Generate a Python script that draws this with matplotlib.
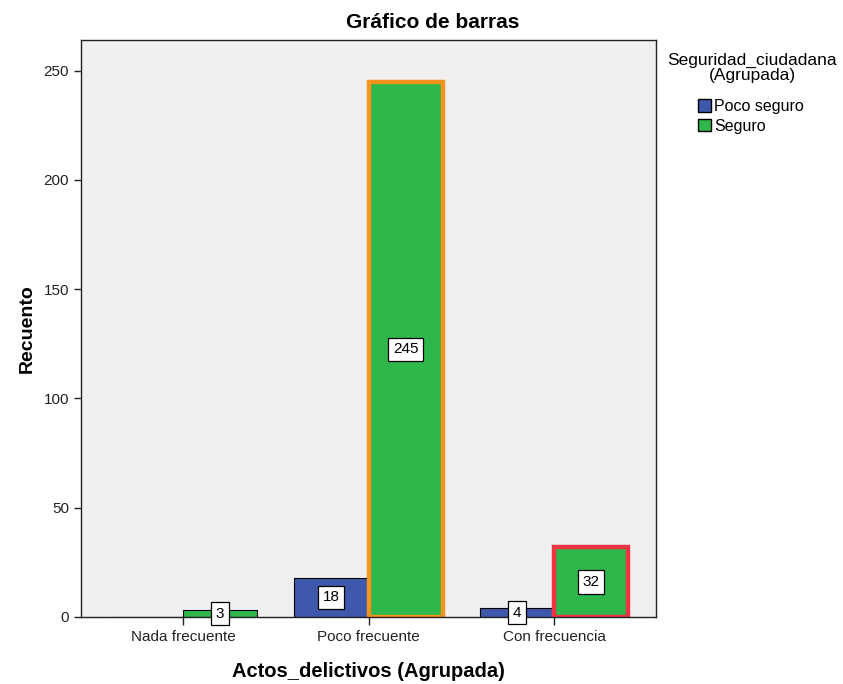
import matplotlib.pyplot as plt
import numpy as np
from matplotlib.patches import Patch

plt.rcParams['font.family'] = ['Liberation Sans', 'DejaVu Sans']

categories = ['Nada frecuente', 'Poco frecuente', 'Con frecuencia']
poco_seguro = [0, 18, 4]
seguro = [3, 245, 32]
series_names = ['Poco seguro', 'Seguro']
blue = '#3E58AC'
green = '#2EB84B'

fig = plt.figure(figsize=(8.43, 6.84), dpi=100)
ax = fig.add_axes([81/843, 67/684, 575/843, 577/684])
ax.set_facecolor('#F0F0F0')

x = np.arange(len(categories))
w = 0.4
b1 = ax.bar(x - w/2, poco_seguro, w, color=blue, edgecolor='black', linewidth=0.8, zorder=2)
b2 = ax.bar(x + w/2, seguro, w, color=green, edgecolor='black', linewidth=0.8, zorder=2)
# highlighted bars
b2[1].set_edgecolor('#F7941D')
b2[1].set_linewidth(3.2)
b2[2].set_edgecolor('#EE3342')
b2[2].set_linewidth(3.2)

for bars, vals in [(b1, poco_seguro), (b2, seguro)]:
    for bar, v in zip(bars, vals):
        if v == 0:
            continue
        ax.text(bar.get_x() + bar.get_width()/2, v/2, str(v), ha='center', va='center',
                fontsize=11, zorder=4,
                bbox=dict(boxstyle='square,pad=0.3', fc='white', ec='black', lw=0.9))

ax.set_xlim(-0.55, 2.55)
ax.set_ylim(0, 264)
ax.set_xticks(x)
ax.set_xticklabels(categories, fontsize=11)
ax.set_yticks([0, 50, 100, 150, 200, 250])
ax.tick_params(axis='y', labelsize=11, length=5, width=1, colors='#222222')
ax.tick_params(axis='x', length=6, width=1, colors='#222222')
for s in ax.spines.values():
    s.set_linewidth(1)
    s.set_color('#222222')

ax.set_ylabel('Recuento', fontsize=14, fontweight='bold', labelpad=6)
ax.set_xlabel('Actos_delictivos (Agrupada)', fontsize=14.5, fontweight='bold', labelpad=13)
fig.text(433/843, 1 - 22/684, 'Gráfico de barras', ha='center', va='center',
         fontsize=15, fontweight='bold')

fig.text(752/843, 1 - 68/684, 'Seguridad_ciudadana\n(Agrupada)', ha='center', va='center',
         multialignment='center', fontsize=12.5, linespacing=1.0)
handles = [Patch(facecolor=blue, edgecolor='black', label=series_names[0]),
           Patch(facecolor=green, edgecolor='black', label=series_names[1])]
fig.legend(handles=handles, loc='upper left', bbox_to_anchor=(698/843, 1 - 99/684),
           frameon=False, fontsize=11.5, handlelength=0.8, handleheight=0.8,
           handletextpad=0.2, labelspacing=0.3, borderpad=0, borderaxespad=0)

plt.savefig('out.png', dpi=100)
